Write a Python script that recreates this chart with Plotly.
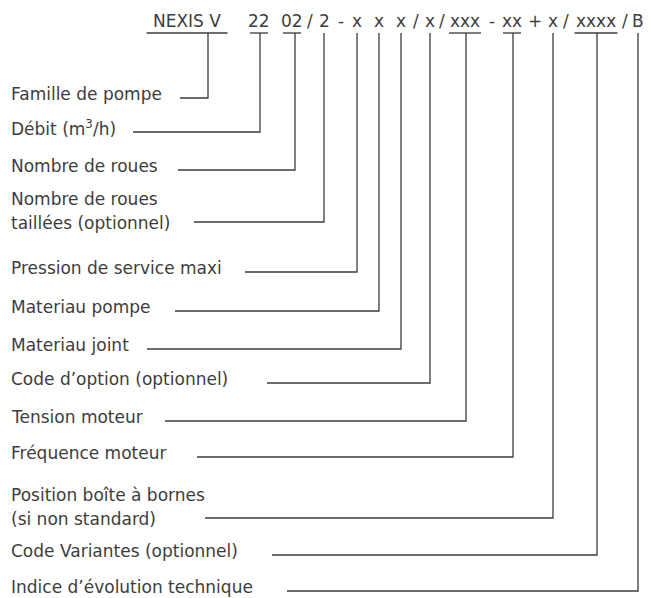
import plotly.graph_objects as go

# ---- data (text content) ----
labels = [
    "Famille de pompe",
    "Débit (m<sup>3</sup>/h)",
    "Nombre de roues",
    "Nombre de roues<br>taillées (optionnel)",
    "Pression de service maxi",
    "Materiau pompe",
    "Materiau joint",
    "Code d’option (optionnel)",
    "Tension moteur",
    "Fréquence moteur",
    "Position boîte à bornes<br>(si non standard)",
    "Code Variantes (optionnel)",
    "Indice d’évolution technique",
]
code_tokens = ["NEXIS V", "22", "02", "2", "x", "x", "x", "x", "xxx", "xx", "x", "xxxx", "B"]
separators = ["", "", "/", "-", "", "", "/", "/", "-", "+", "/", "/"]

# ---- layout (page pixel positions) ----
W, H = 651, 598
PAGE_MARGIN = 8  # default body margin of the html page
token_x = [187, 259, 292, 324, 357, 379, 401, 430, 465, 512, 553, 596, 638]
token_hw = [40.5, 9, 9, 5, 5, 5, 5, 5, 16, 9, 5, 21.5, 5]
has_bar = [True, True, True, False, False, False, False, False, True, True, False, True, False]
vert_x = [208, 260, 295, 324, 357, 379, 401, 430, 466, 513, 553, 597, 638]
line_y = [98, 132, 170, 222, 272, 311, 349, 383, 421, 457, 518, 555, 591]
line_x0 = [180, 133, 178, 194, 245, 175, 147, 267, 165, 197, 205, 272, 287]
header_y = 21
bar_y = 33
label_x = 9
line_gap = 24

FONT = "DejaVu Sans"
FS = 17
TXT = "#3d3d3d"
LINE = "#3c3c3c"

fig = go.Figure()

cx, cy = [], []
for i in range(len(labels)):
    cx += [line_x0[i], vert_x[i], vert_x[i], None]
    cy += [line_y[i], line_y[i], bar_y, None]
for i, t in enumerate(code_tokens):
    if has_bar[i]:
        cx += [token_x[i] - token_hw[i], token_x[i] + token_hw[i], None]
        cy += [bar_y, bar_y, None]
fig.add_trace(go.Scatter(x=cx, y=cy, mode="lines",
                         line=dict(color=LINE, width=1.3),
                         hoverinfo="skip", showlegend=False))

ann = []
for i, lab in enumerate(labels):
    parts = lab.split("<br>")
    if len(parts) == 1:
        ys = [line_y[i] - 4]
    else:
        y2 = line_y[i] + 1
        ys = [y2 - line_gap, y2]
    for part, yy in zip(parts, ys):
        ann.append(dict(x=label_x, y=yy, text=part, xanchor="left", yanchor="middle",
                        align="left", showarrow=False,
                        font=dict(family=FONT, size=FS, color=TXT)))
for i, t in enumerate(code_tokens):
    ann.append(dict(x=token_x[i], y=header_y, text=t, xanchor="center", yanchor="middle",
                    showarrow=False, font=dict(family=FONT, size=FS, color=TXT)))
for i, s in enumerate(separators):
    if s:
        xs = (token_x[i] + token_hw[i] + token_x[i + 1] - token_hw[i + 1]) / 2
        ann.append(dict(x=xs, y=header_y, text=s, xanchor="center", yanchor="middle",
                        showarrow=False, font=dict(family=FONT, size=FS, color=TXT)))

fig.update_layout(
    width=W - PAGE_MARGIN, height=H - PAGE_MARGIN,
    margin=dict(l=0, r=0, t=0, b=0),
    paper_bgcolor="white", plot_bgcolor="white",
    xaxis=dict(range=[PAGE_MARGIN, W], visible=False, fixedrange=True),
    yaxis=dict(range=[H, PAGE_MARGIN], visible=False, fixedrange=True),
    annotations=ann,
)
fig.write_html("out.html", config={"displayModeBar": False})
